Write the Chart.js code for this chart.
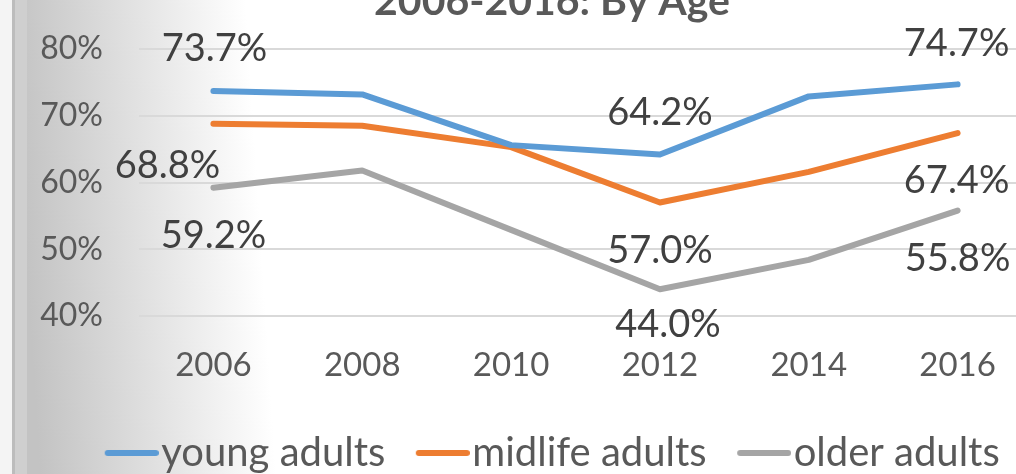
<!DOCTYPE html>
<html>
<head>
<meta charset="utf-8">
<script src="https://cdn.jsdelivr.net/npm/chart.js@4"></script>
<style>
  html, body { margin: 0; padding: 0; overflow: hidden; background: #fff; width: 1016px; height: 474px; }
  #wrap { position: absolute; left: 0; top: -30px; width: 1032px; height: 520px; }
</style>
</head>
<body>
<div id="wrap"><canvas id="c" width="1032" height="520"></canvas></div>
<script>
// Survey years and share per age group (percent)
const years = ['2006', '2008', '2010', '2012', '2014', '2016'];
const youngAdults = [73.7, 73.2, 65.6, 64.2, 72.9, 74.7];
const midlifeAdults = [68.8, 68.5, 65.3, 57.0, 61.6, 67.4];
const olderAdults = [59.2, 61.8, 52.9, 44.0, 48.4, 55.8];
const yTicks = [40, 50, 60, 70, 80];
const seriesNames = ['young adults', 'midlife adults', 'older adults'];

// Which points carry a value label, and where the text sits relative to the point
const labelPlacement = [
  [{ i: 0, dx: 1, dy: -30 }, { i: 3, dx: 0, dy: -29 }, { i: 5, dx: -1, dy: -28 }],
  [{ i: 0, dx: -46, dy: 54 }, { i: 3, dx: 0, dy: 60 }, { i: 5, dx: -1, dy: 60 }],
  [{ i: 0, dx: 0, dy: 60 }, { i: 3, dx: 8, dy: 48 }, { i: 5, dx: 0, dy: 60 }]
];

const colors = ['#5B9BD5', '#ED7D31', '#A5A5A5'];

// Round-capped stroke used as the legend swatch; the image is wider than the
// legend box so that the stroke starts at the box edge and ends near the text
function legendLine(color) {
  const c = document.createElement('canvas');
  c.width = 72; c.height = 8;
  const g = c.getContext('2d');
  g.strokeStyle = color; g.lineWidth = 6; g.lineCap = 'round';
  g.beginPath(); g.moveTo(21, 4); g.lineTo(69, 4); g.stroke();
  return c;
}

// Grey shaded panel on the left side of the chart
const backdrop = {
  id: 'backdrop',
  beforeDraw(chart) {
    const { ctx, width, height } = chart;
    ctx.save();
    ctx.fillStyle = '#ffffff';
    ctx.fillRect(0, 0, width, height);
    const g = ctx.createLinearGradient(27, 300, 262, 285);
    g.addColorStop(0, '#c3c3c3');
    g.addColorStop(0.5, '#e1e1e1');
    g.addColorStop(1, '#ffffff');
    ctx.fillStyle = g;
    ctx.fillRect(27, 0, 300, height);
    ctx.fillStyle = '#f4f4f4';
    ctx.fillRect(0, 0, 12, height);
    ctx.fillStyle = '#bcbcbc';
    ctx.fillRect(12, 0, 3, height);
    ctx.fillStyle = '#cfcfcf';
    ctx.fillRect(15, 0, 12, height);
    ctx.restore();
  },
  // let the y tick labels use the space left of the layout padding
  afterLayout(chart) {
    chart.scales.y.left = 0;
  }
};

// Value labels next to selected points
const valueLabels = {
  id: 'valueLabels',
  afterDatasetsDraw(chart) {
    const { ctx } = chart;
    const xs = chart.scales.x, ys = chart.scales.y;
    ctx.save();
    ctx.font = '38px Lato';
    ctx.fillStyle = '#404040';
    ctx.textAlign = 'center';
    ctx.textBaseline = 'alphabetic';
    chart.data.datasets.forEach((ds, d) => {
      labelPlacement[d].forEach(p => {
        const v = ds.data[p.i];
        ctx.fillText(v.toFixed(1) + '%', xs.getPixelForValue(p.i) + p.dx, ys.getPixelForValue(v) + p.dy);
      });
    });
    ctx.restore();
  }
};

function makeSeries(label, data, color) {
  return {
    label, data,
    borderColor: color, backgroundColor: color,
    borderWidth: 6, borderCapStyle: 'round', borderJoinStyle: 'round',
    pointRadius: 0, tension: 0, fill: false
  };
}

function draw() {
  new Chart(document.getElementById('c'), {
    type: 'line',
    data: {
      labels: years,
      datasets: [
        makeSeries(seriesNames[0], youngAdults, colors[0]),
        makeSeries(seriesNames[1], midlifeAdults, colors[1]),
        makeSeries(seriesNames[2], olderAdults, colors[2])
      ]
    },
    options: {
      responsive: false,
      animation: false,
      devicePixelRatio: 1,
      events: [],
      layout: { padding: { left: 72, right: 0, top: 0, bottom: 7 } },
      scales: {
        x: {
          offset: true,
          grid: { display: false, drawTicks: false },
          border: { display: false },
          ticks: { font: { family: 'Lato', size: 33 }, color: '#595959', padding: 29.2, maxRotation: 0, autoSkip: false },
          afterFit(s) { s.height = 87; }
        },
        y: {
          min: 40, max: 80,
          grid: { color: '#d9d9d9', lineWidth: 2, drawTicks: false },
          border: { display: false },
          ticks: { font: { family: 'Lato', size: 32 }, color: '#595959', padding: 36, callback: v => v + '%' },
          afterBuildTicks(s) { s.ticks = yTicks.map(v => ({ value: v })); },
          afterFit(s) { s.width = 67; }
        }
      },
      plugins: {
        tooltip: { enabled: false },
        title: {
          display: true,
          text: '2006-2016: By Age',
          color: '#595959',
          font: { family: 'Lato', size: 41, weight: 'bold' },
          padding: { top: 7.4, bottom: 22.4 }
        },
        legend: {
          position: 'bottom',
          labels: {
            usePointStyle: true,
            pointStyleWidth: 37,
            padding: 30,
            color: '#595959',
            font: { family: 'Lato', size: 40 },
            generateLabels(chart) {
              const items = Chart.defaults.plugins.legend.labels.generateLabels(chart);
              items.forEach(it => { it.pointStyle = legendLine(colors[it.datasetIndex]); });
              return items;
            }
          }
        }
      }
    },
    plugins: [backdrop, valueLabels]
  });
}

if (document.fonts && document.fonts.load) {
  Promise.all([
    document.fonts.load('38px Lato'),
    document.fonts.load('bold 41px Lato')
  ]).then(draw, draw);
} else {
  draw();
}
</script>
</body>
</html>
